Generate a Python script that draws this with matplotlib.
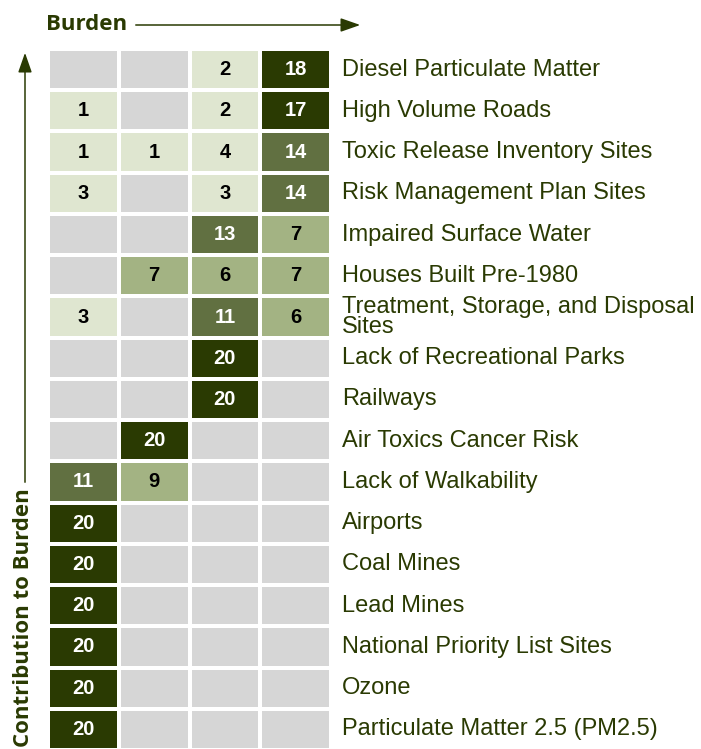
import matplotlib
matplotlib.use("Agg")
import matplotlib.pyplot as plt
import numpy as np
from matplotlib.colors import ListedColormap, BoundaryNorm

categories = [
    "Diesel Particulate Matter",
    "High Volume Roads",
    "Toxic Release Inventory Sites",
    "Risk Management Plan Sites",
    "Impaired Surface Water",
    "Houses Built Pre-1980",
    "Treatment, Storage, and Disposal\nSites",
    "Lack of Recreational Parks",
    "Railways",
    "Air Toxics Cancer Risk",
    "Lack of Walkability",
    "Airports",
    "Coal Mines",
    "Lead Mines",
    "National Priority List Sites",
    "Ozone",
    "Particulate Matter 2.5 (PM2.5)",
]
col1 = [0, 1, 1, 3, 0, 0, 3, 0, 0, 0, 11, 20, 20, 20, 20, 20, 20]
col2 = [0, 0, 1, 0, 0, 7, 0, 0, 0, 20, 9, 0, 0, 0, 0, 0, 0]
col3 = [2, 2, 4, 3, 13, 6, 11, 20, 20, 0, 0, 0, 0, 0, 0, 0, 0]
col4 = [18, 17, 14, 14, 7, 7, 6, 0, 0, 0, 0, 0, 0, 0, 0, 0, 0]

values = np.array([col1, col2, col3, col4]).T
nrows, ncols = values.shape

W, H = 701, 749
fig = plt.figure(figsize=(W / 100, H / 100), dpi=100)

# grid axes in pixel geometry
gx0, gx1 = 48, 331
gy0, gy1 = 49, 750
ax = fig.add_axes([gx0 / W, 1 - gy1 / H, (gx1 - gx0) / W, (gy1 - gy0) / H])

cmap = ListedColormap(["#d6d6d6", "#dfe6d0", "#a3b383", "#617041", "#2a3a02"])
norm = BoundaryNorm([-0.5, 0.5, 5, 10, 15, 25], cmap.N)
ax.pcolormesh(np.arange(ncols + 1), np.arange(nrows + 1), values,
              cmap=cmap, norm=norm, edgecolors="white", linewidth=1.6)
ax.set_xlim(0, ncols)
ax.set_ylim(nrows, 0)
ax.axis("off")

for r in range(nrows):
    for c in range(ncols):
        v = values[r, c]
        if v > 0:
            color = "white" if v > 10 else "black"
            ax.text(c + 0.5, r + 0.5, str(v), ha="center", va="center",
                    fontsize=14.5, fontweight="bold", color=color,
                    family="Liberation Sans")
    ax.text(ncols + 0.16, r + 0.5, categories[r], ha="left", va="center",
            fontsize=17, color="#2a3a02", family="Liberation Sans",
            linespacing=0.9, clip_on=False)

green = "#2a3a02"
# Top label with arrow
fig.text(46 / W, 1 - 24 / H, "Burden", ha="left", va="center",
         fontsize=16, fontweight="bold", color=green, family="Open Sans")
fig.add_artist(matplotlib.patches.FancyArrowPatch(
    (133 / W, 1 - 25 / H), (363 / W, 1 - 25 / H),
    transform=fig.transFigure, arrowstyle="-|>,head_length=1.0,head_width=0.35",
    mutation_scale=12, color=green, lw=1.1))

# Left label with arrow
fig.text(24 / W, 1 - 747 / H, "Contribution to Burden", ha="center", va="bottom",
         rotation=90, fontsize=16, fontweight="bold", color=green, family="Open Sans")
fig.add_artist(matplotlib.patches.FancyArrowPatch(
    (25 / W, 1 - 485 / H), (25 / W, 1 - 50 / H),
    transform=fig.transFigure, arrowstyle="-|>,head_length=1.0,head_width=0.35",
    mutation_scale=12, color=green, lw=1.1))

fig.savefig("out.png", dpi=100)
